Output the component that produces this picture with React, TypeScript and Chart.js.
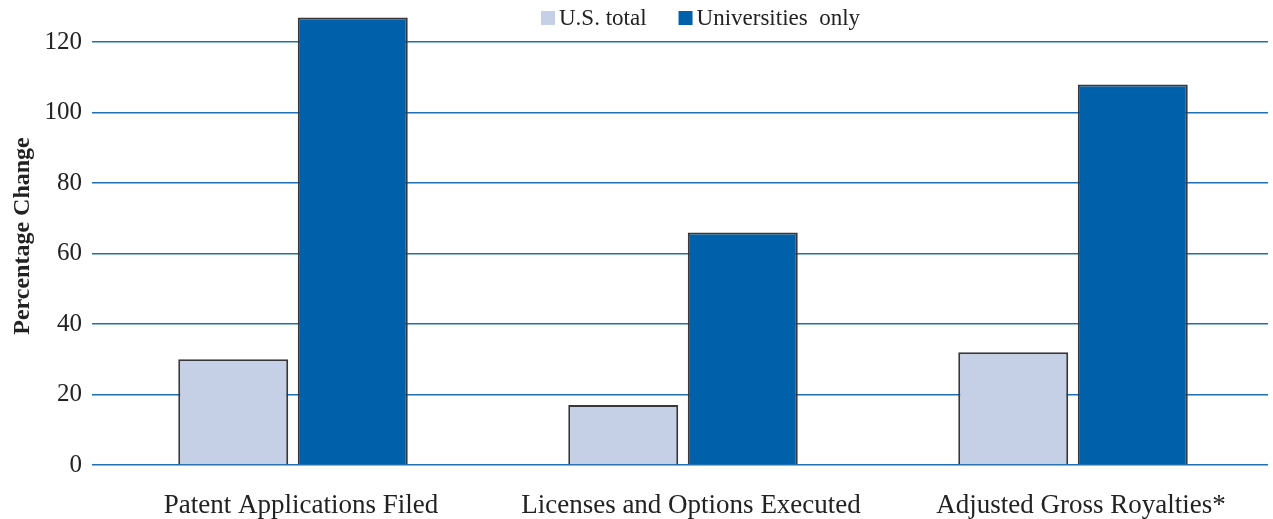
import React, { useEffect, useRef } from "react";
import { Chart, registerables } from "chart.js";

Chart.register(...registerables);

const categories = ["Patent Applications Filed", "Licenses and Options Executed", "Adjusted Gross Royalties*"];
const usTotal = [30, 17, 32];
const universitiesOnly = [127, 66, 108];
const seriesNames = ["U.S. total", "Universities  only"];
const seriesColors = ["#c5cfe6", "#0060aa"];
const yTicks = [0, 20, 40, 60, 80, 100, 120];

const FONT = "'Liberation Serif', serif";

const topLegend = {
  id: "topLegend",
  afterDraw(chart: any) {
    const ctx = chart.ctx;
    ctx.save();
    ctx.font = `23px ${FONT}`;
    ctx.textBaseline = "alphabetic";
    const box = 14;
    const gapBoxText = 4;
    const gapItems = 32;
    const baseline = 25;
    let x = 541;
    seriesNames.forEach((n, i) => {
      ctx.fillStyle = seriesColors[i];
      ctx.fillRect(x, baseline - box, box, box);
      ctx.fillStyle = "#222";
      ctx.fillText(n, x + box + gapBoxText, baseline);
      x += box + gapBoxText + ctx.measureText(n).width + gapItems;
    });
    ctx.restore();
  },
};

export default function App() {
  const ref = useRef<HTMLCanvasElement | null>(null);
  useEffect(() => {
    if (!ref.current) return;
    const chart = new Chart(ref.current, {
      type: "bar",
      data: {
        labels: categories,
        datasets: [
          {
            label: seriesNames[0],
            data: usTotal,
            backgroundColor: seriesColors[0],
            borderColor: "#38383c",
            borderWidth: 2,
            categoryPercentage: 0.613,
            barPercentage: 0.92,
          },
          {
            label: seriesNames[1],
            data: universitiesOnly,
            backgroundColor: seriesColors[1],
            borderColor: "#38383c",
            borderWidth: 2,
            categoryPercentage: 0.613,
            barPercentage: 0.92,
          },
        ],
      },
      plugins: [topLegend],
      options: {
        animation: false,
        responsive: false,
        layout: { padding: { top: 7, right: 5, left: 0, bottom: 0 } },
        plugins: {
          tooltip: { enabled: false },
          legend: { display: false },
        },
        scales: {
          x: {
            grid: { display: false },
            border: { display: false },
            ticks: { font: { family: FONT, size: 27 }, color: "#222", padding: 17, labelOffset: 8 },
            afterFit: (s: any) => {
              s.height = 54;
              s.paddingLeft = 0;
              s.paddingRight = 0;
            },
          },
          y: {
            min: 0,
            max: 130,
            border: { display: false },
            grid: { color: "#1f6fb5", lineWidth: 1.5, tickLength: 6 },
            afterBuildTicks: (s: any) => {
              s.ticks = yTicks.map((v) => ({ value: v }));
            },
            ticks: { font: { family: FONT, size: 25 }, color: "#222", padding: 10 },
            title: {
              display: true,
              text: "Percentage Change",
              font: { family: FONT, size: 24, weight: "bold" },
              color: "#222",
              padding: { top: 8, bottom: 0 },
            },
            afterFit: (s: any) => {
              s.width = 98;
              s.paddingTop = 0;
              s.paddingBottom = 0;
            },
          },
        },
      },
    });
    return () => chart.destroy();
  }, []);
  return (
    <div style={{ position: "fixed", left: 0, top: 0, width: 1273, height: 519, background: "#fff" }}>
      <canvas ref={ref} width={1273} height={519} style={{ width: 1273, height: 519 }} />
    </div>
  );
}
